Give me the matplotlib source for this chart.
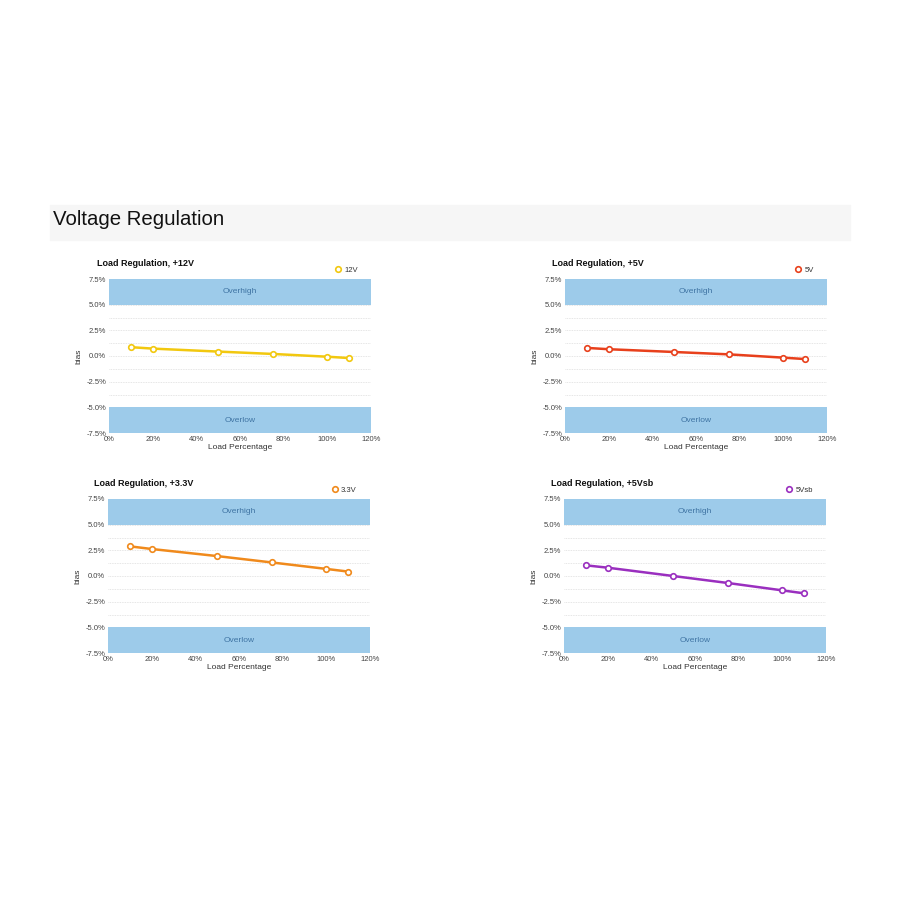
import matplotlib.pyplot as plt
from matplotlib.patches import Rectangle
from matplotlib.ticker import MultipleLocator, FuncFormatter

plt.rcParams['font.family'] = ['Liberation Sans', 'DejaVu Sans']

# data
load = [10, 20, 50, 75, 100, 110]
bias_12v = [0.86, 0.72, 0.43, 0.20, -0.07, -0.20]
bias_5v = [0.79, 0.66, 0.39, 0.16, -0.16, -0.30]
bias_33v = [2.89, 2.63, 1.94, 1.32, 0.69, 0.43]
bias_5vsb = [1.04, 0.81, 0.00, -0.68, -1.40, -1.69]

titles = ['Load Regulation, +12V', 'Load Regulation, +5V',
          'Load Regulation, +3.3V', 'Load Regulation, +5Vsb']
names = ['12V', '5V', '3.3V', '5Vsb']
series = [bias_12v, bias_5v, bias_33v, bias_5vsb]
colors = ['#f2c80f', '#e8401c', '#f08a1c', '#9a2fbf']

fig = plt.figure(figsize=(9, 9), dpi=100)

# header bar
fig.patches.append(Rectangle((50 / 900, 1 - 240 / 900), 800 / 900, 35 / 900,
                             transform=fig.transFigure, color='#f6f6f6', zorder=0))
fig.text(53 / 900, 1 - 219 / 900, 'Voltage Regulation', fontsize=14.7, va='center', color='#111111')

# axes boxes: left, top in px
boxes = [(109, 279), (565, 279), (108, 499), (564, 499)]
title_x = [97, 552, 94, 551]
aw, ah = 262, 154

for i in range(4):
    x0, y0 = boxes[i]
    ax = fig.add_axes([x0 / 900, 1 - (y0 + ah) / 900, aw / 900, ah / 900])
    ax.axhspan(5, 7.5, color='#9dcbea', lw=0, zorder=2)
    ax.axhspan(-7.5, -5, color='#9dcbea', lw=0, zorder=2)
    ax.text(60, 6.25, 'Overhigh', ha='center', va='center', fontsize=6, color='#3f74a3', zorder=3)
    ax.text(60, -6.25, 'Overlow', ha='center', va='center', fontsize=6, color='#3f74a3', zorder=3)
    ax.plot(load, series[i], color=colors[i], lw=1.8, marker='o', ms=4,
            mfc='white', mec=colors[i], mew=1.2, zorder=4, label=names[i])
    ax.set_xlim(0, 120)
    ax.set_ylim(-7.5, 7.5)
    ax.xaxis.set_major_locator(MultipleLocator(20))
    ax.yaxis.set_major_locator(MultipleLocator(2.5))
    ax.yaxis.set_minor_locator(MultipleLocator(1.25))
    ax.xaxis.set_major_formatter(FuncFormatter(lambda v, p: '%d%%' % v))
    ax.yaxis.set_major_formatter(FuncFormatter(lambda v, p: '%.1f%%' % v))
    ax.grid(axis='y', which='both', color='#dddddd', lw=0.6, ls=(0, (1, 1)), zorder=1)
    for s in ax.spines.values():
        s.set_visible(False)
    ax.tick_params(which='both', length=0, labelsize=5.5, labelcolor='#444444', pad=2)
    ax.set_xlabel('Load Percentage', fontsize=6, color='#333333', labelpad=1)
    ax.set_ylabel('bias', fontsize=6, color='#333333', labelpad=3)
    fig.text(title_x[i] / 900, 1 - (y0 - 15) / 900, titles[i], fontsize=6.5,
             fontweight='bold', va='center', color='#111111')
    ax.legend(loc='lower right', bbox_to_anchor=(0.97, 1.0), frameon=False, fontsize=5.5,
              handlelength=0, handletextpad=0.8, borderpad=0.2, labelcolor='#333333')

fig.savefig('out.png', dpi=100, facecolor='white')
